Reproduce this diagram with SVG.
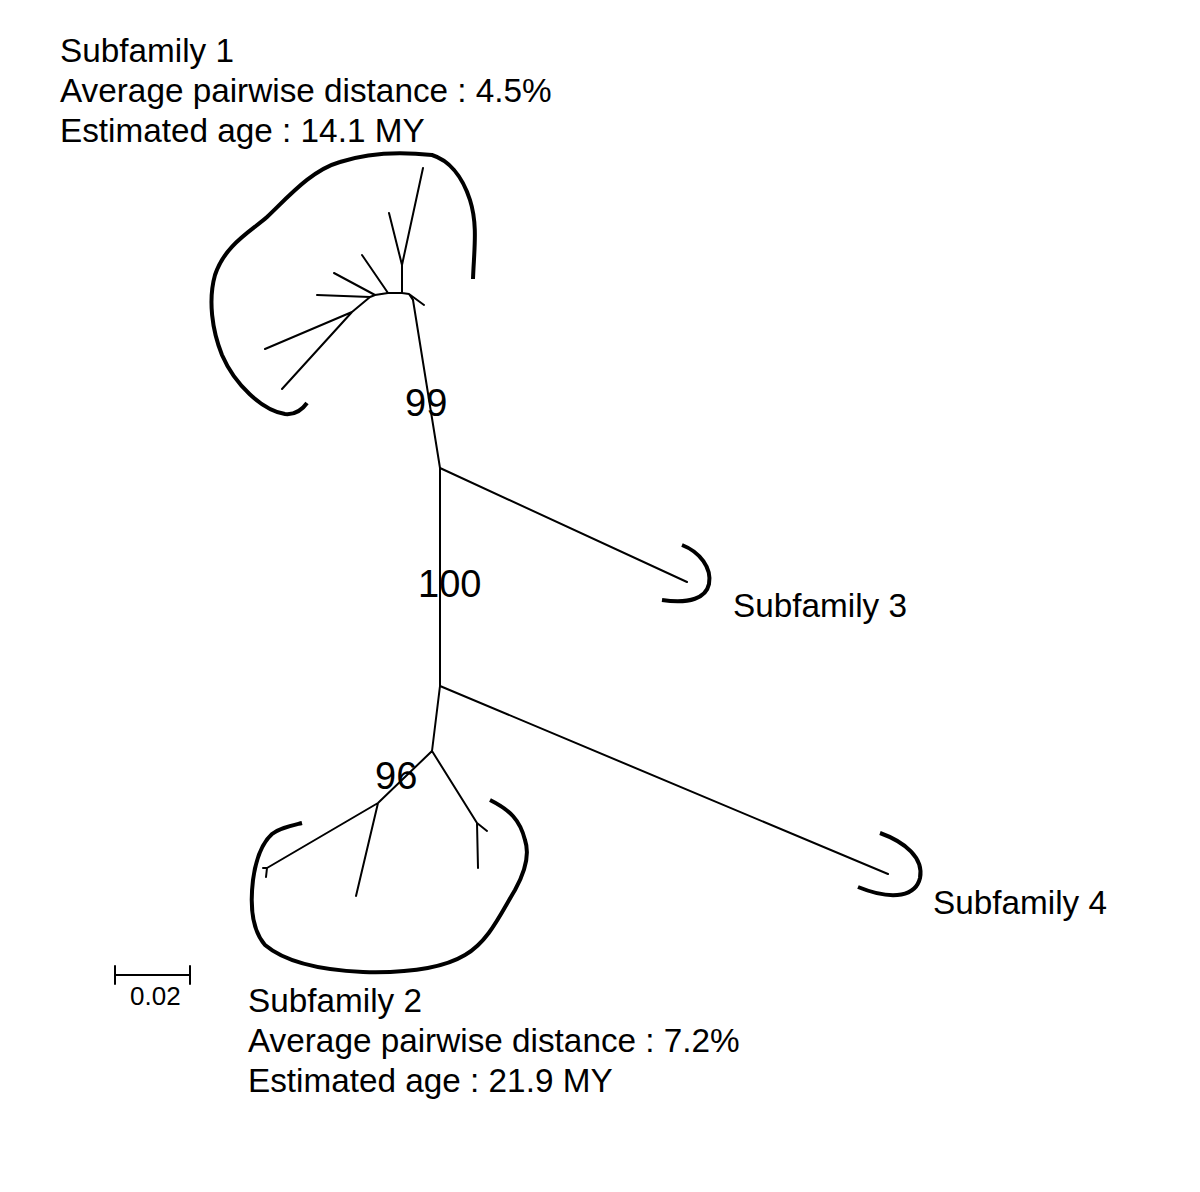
<svg xmlns="http://www.w3.org/2000/svg" width="1200" height="1192" viewBox="0 0 1200 1192">
<style>
text{font-family:"Liberation Sans",Arial,sans-serif;fill:#000}
.lbl{font-size:33.3px}
.bs{font-size:38px}
.br{fill:none;stroke:#000;stroke-width:2;stroke-linecap:round;stroke-linejoin:round}
.cl{fill:none;stroke:#000;stroke-width:4;stroke-linecap:butt;stroke-linejoin:round}
</style>
<rect width="1200" height="1192" fill="#fff"/>
<g id="connectors">
<path class="br" d="M440,468 L413,300"/>
<path class="br" d="M440,468 L440,686"/>
<path class="br" d="M440,468 L687,582"/>
<path class="br" d="M440,686 L888,874"/>
<path class="br" d="M440,686 L432,751"/>
</g>
<g id="subfamily1">
<path class="br" d="M413,300 L409,294 L402,293 M409,294 L424,305 M402,293 L402,265 L423,168 M402,265 L389,213 M402,293 L388,293 L375,295 L370,297 L352,312 L265,349 M352,312 L282,389 M388,293 L362,255 M375,295 L334,273 M370,297 L317,295"/>
<path class="cl" d="M473,279 C474,250 478,225 470,200 C462,175 448,160 432,155 C405,152 370,152 340,162 C312,170 290,195 267,217 C250,232 225,245 215,275 C208,300 212,330 222,355 C235,385 262,410 285,414 C295,415 302,410 307,403"/>
<text class="lbl" x="60" y="62">Subfamily 1</text>
<text class="lbl" x="60" y="102">Average pairwise distance : 4.5%</text>
<text class="lbl" x="60" y="142">Estimated age : 14.1 MY</text>
<text class="bs" x="405" y="416">99</text>
</g>
<g id="node100">
<text class="bs" x="418" y="597">100</text>
</g>
<g id="subfamily2">
<path class="br" d="M432,751 L378,803 L267,868 L263,868 M267,868 L266,877 M378,803 L356,896 M432,751 L477,823 L487,831 M477,823 L478,868"/>
<path class="cl" d="M302,823 C290,826 280,828 272,834 C262,843 256,858 253,880 C250,905 252,930 265,945 C285,962 320,970 363,972 C400,973 440,970 465,955 C488,942 500,915 515,890 C525,872 530,855 525,840 C520,820 510,810 490,800"/>
<text class="bs" x="375" y="789">96</text>
<text class="lbl" x="248" y="1012">Subfamily 2</text>
<text class="lbl" x="248" y="1052">Average pairwise distance : 7.2%</text>
<text class="lbl" x="248" y="1092">Estimated age : 21.9 MY</text>
</g>
<g id="subfamily3">
<path class="cl" d="M682,545 C700,552 712,568 709,584 C706,598 690,604 662,600"/>
<text class="lbl" x="733" y="617">Subfamily 3</text>
</g>
<g id="subfamily4">
<path class="cl" d="M880,833 C905,842 924,858 920,878 C916,895 895,902 858,887"/>
<text class="lbl" x="933" y="914">Subfamily 4</text>
</g>
<g id="scalebar">
<path class="br" d="M115,975 L190,975 M115,966 L115,984 M190,966 L190,984"/>
<text x="130" y="1005" font-size="26">0.02</text>
</g>
</svg>
